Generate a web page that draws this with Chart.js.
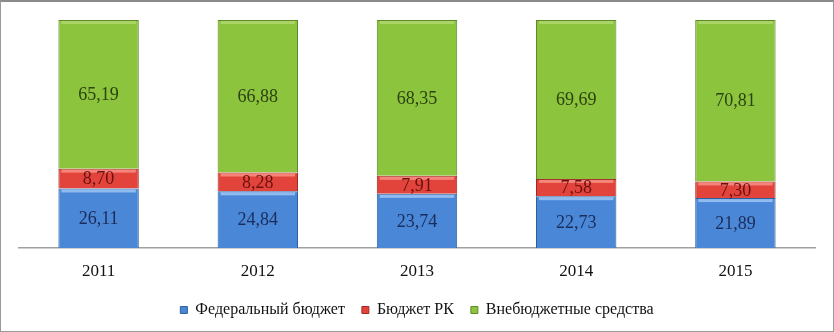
<!DOCTYPE html>
<html>
<head>
<meta charset="utf-8">
<script src="https://cdn.jsdelivr.net/npm/chart.js@4"></script>
<style>
    html, body { margin: 0; padding: 0; background: #fff; }
    .frame {
        width: 832px; height: 329px;
        border: 1px solid #9a9a9a;
        border-top: 2px solid #8a8a8a;
        position: relative;
    }
</style>
</head>
<body>
<div class="frame">
    <canvas id="fundChart" width="832" height="329"></canvas>
</div>
<script>
const years = ['2011', '2012', '2013', '2014', '2015'];
const federal = [26.11, 24.84, 23.74, 22.73, 21.89];
const regional = [8.70, 8.28, 7.91, 7.58, 7.30];
const offBudget = [65.19, 66.88, 68.35, 69.69, 70.81];

const serif = "'Liberation Serif', 'Times New Roman', serif";

// labels in the middle of each segment, comma as decimal separator
const segmentLabels = {
    id: 'segmentLabels',
    afterDatasetsDraw(chart) {
        const ctx = chart.ctx;
        ctx.save();
        ctx.font = '18px ' + serif;
        ctx.textAlign = 'center';
        ctx.textBaseline = 'middle';
        chart.data.datasets.forEach((ds, i) => {
            const meta = chart.getDatasetMeta(i);
            ctx.fillStyle = ds.labelColor;
            meta.data.forEach((bar, j) => {
                const mid = (bar.y + bar.base) / 2;
                ctx.fillText(ds.data[j].toFixed(2).replace('.', ','), bar.x, mid + 1);
            });
        });
        ctx.restore();
    }
};

// small highlight strip at the top of each segment
const bevel = {
    id: 'bevel',
    afterDatasetsDraw(chart) {
        const ctx = chart.ctx;
        ctx.save();
        chart.data.datasets.forEach((ds, i) => {
            chart.getDatasetMeta(i).data.forEach(bar => {
                const left = bar.x - bar.width / 2;
                ctx.fillStyle = ds.highlight;
                ctx.fillRect(left + 3, bar.y + 1, bar.width - 6, 3);
            });
        });
        ctx.restore();
    }
};

new Chart(document.getElementById('fundChart'), {
    type: 'bar',
    data: {
        labels: years,
        datasets: [{
            label: 'Федеральный бюджет',
            data: federal,
            backgroundColor: '#4a87d6',
            borderColor: '#2f5f9c',
            highlight: 'rgba(160,200,245,0.8)',
            labelColor: '#1b2c5a'
        }, {
            label: 'Бюджет РК',
            data: regional,
            backgroundColor: '#e2443b',
            borderColor: '#9e2a25',
            highlight: 'rgba(250,150,140,0.8)',
            labelColor: '#6a1010'
        }, {
            label: 'Внебюджетные средства',
            data: offBudget,
            backgroundColor: '#8cc43e',
            borderColor: '#5d8a28',
            highlight: 'rgba(190,225,130,0.6)',
            labelColor: '#2c4210'
        }]
    },
    options: {
        responsive: false,
        animation: false,
        layout: { padding: { left: 18, right: 18, top: 18, bottom: 3 } },
        datasets: {
            bar: { barPercentage: 1, categoryPercentage: 0.505, borderWidth: 1 }
        },
        plugins: {
            legend: {
                position: 'bottom',
                labels: {
                    font: { family: serif, size: 16 },
                    color: '#111',
                    boxWidth: 7,
                    boxHeight: 7,
                    padding: 17
                }
            },
            tooltip: { enabled: false }
        },
        scales: {
            x: {
                stacked: true,
                grid: { display: false, drawTicks: false },
                border: { color: '#a0a0a0', width: 1.5 },
                ticks: { font: { family: serif, size: 17 }, color: '#111', padding: 13 },
                afterFit(scale) { scale.height = 37; }
            },
            y: {
                stacked: true,
                display: false,
                min: 0,
                max: 100
            }
        }
    },
    plugins: [bevel, segmentLabels]
});
</script>
</body>
</html>
